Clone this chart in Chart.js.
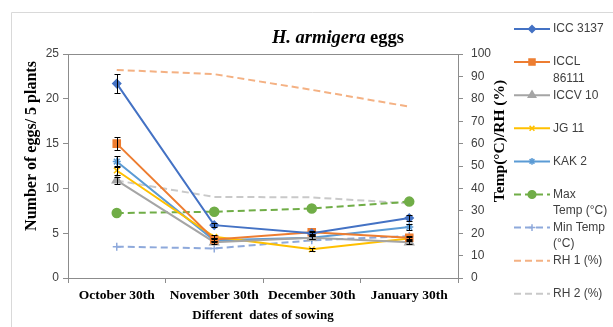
<!DOCTYPE html>
<html>
<head>
<meta charset="utf-8">
<script src="https://cdn.jsdelivr.net/npm/chart.js@4/dist/chart.umd.min.js"></script>
<style>
  html, body { margin: 0; padding: 0; background: #fff; }
  #wrap { width: 613px; height: 327px; position: relative; }
</style>
</head>
<body>
<div id="wrap"><canvas id="c" width="613" height="327"></canvas></div>
<script>
// Sowing dates (categories)
const dates = ['October 30th', 'November 30th', 'December 30th', 'January 30th'];

// Egg counts per 5 plants, with standard errors
const icc3137 = [21.7, 5.9, 5.0, 6.7];
const icc3137Err = [1.05, 0.2, 0.15, 0.3];
const iccl86111 = [15.0, 4.3, 5.1, 4.5];
const iccl86111Err = [0.75, 0.15, 0.15, 0.15];
const iccv10 = [10.9, 4.0, 4.5, 4.0];
const iccv10Err = [0.4, 0.15, 0.15, 0.15];
const jg11 = [12.0, 4.6, 3.2, 4.4];
const jg11Err = [0.5, 0.15, 0.15, 0.15];
const kak2 = [13.0, 4.2, 4.5, 5.7];
const kak2Err = [0.6, 0.15, 0.15, 0.35];

// Weather (right axis)
const maxTemp = [29.0, 29.6, 31.0, 34.1];
const minTemp = [14.0, 13.2, 16.8, 18.7];
const rh1 = [92.9, 91.0, 84.0, 76.5];
const rh2 = [43.5, 36.2, 36.0, 33.3];

// Legend text, already broken into lines
const legendLines = [
  ['ICC 3137'], ['ICCL', '86111'], ['ICCV 10'], ['JG 11'], ['KAK 2'],
  ['Max', 'Temp (°C)'], ['Min Temp', '(°C)'], ['RH 1 (%)'], ['RH 2 (%)']
];

const eggTicks = { min: 0, max: 25, step: 5 };
const weatherTicks = { min: 0, max: 100, step: 10 };

const AXIS = '#8C8C8C';
const TEXT = '#404040';
const SANS = '"Liberation Sans", Arial, sans-serif';
const SERIF = '"Liberation Serif", "Times New Roman", serif';

function eggSet(label, data, err, color, style, radius) {
  return {
    label, data, err, yAxisID: 'y',
    borderColor: color, backgroundColor: color,
    borderWidth: 2, pointStyle: style, pointRadius: radius,
    pointBorderColor: color, pointBackgroundColor: color, pointBorderWidth: 1.5,
    tension: 0
  };
}
function weatherSet(label, data, color, style, radius) {
  return {
    label, data, yAxisID: 'y1',
    borderColor: color, backgroundColor: color,
    borderWidth: 2, borderDash: [7, 4],
    pointStyle: style, pointRadius: radius,
    pointBorderColor: color, pointBackgroundColor: color, pointBorderWidth: 1.5,
    tension: 0
  };
}

const datasets = [
  eggSet(legendLines[0].join(' '), icc3137, icc3137Err, '#4472C4', 'rectRot', 4),
  eggSet(legendLines[1].join(' '), iccl86111, iccl86111Err, '#ED7D31', 'rect', 5),
  eggSet(legendLines[2].join(' '), iccv10, iccv10Err, '#A5A5A5', 'triangle', 5),
  eggSet(legendLines[3].join(' '), jg11, jg11Err, '#FFC000', 'crossRot', 4),
  eggSet(legendLines[4].join(' '), kak2, kak2Err, '#5B9BD5', 'star', 4),
  weatherSet(legendLines[5].join(' '), maxTemp, '#70AD47', 'circle', 4.5),
  weatherSet(legendLines[6].join(' '), minTemp, '#8EA9DB', 'cross', 4),
  weatherSet(legendLines[7].join(' '), rh1, '#F4B183', 'circle', 0),
  weatherSet(legendLines[8].join(' '), rh2, '#C9C9C9', 'circle', 0)
];

// Outer frame, plot border, titles
const decorations = {
  id: 'decorations',
  beforeDraw(chart) {
    const ctx = chart.ctx;
    ctx.save();
    ctx.strokeStyle = '#D9D9D9';
    ctx.lineWidth = 1;
    ctx.beginPath();
    ctx.moveTo(11.5, 327);
    ctx.lineTo(11.5, 12.5);
    ctx.lineTo(613, 12.5);
    ctx.stroke();
    ctx.restore();
  },
  afterDraw(chart) {
    const ctx = chart.ctx;
    const a = chart.chartArea;
    ctx.save();
    ctx.strokeStyle = AXIS;
    ctx.lineWidth = 1;
    ctx.beginPath();
    ctx.moveTo(a.left, a.top + 0.5);
    ctx.lineTo(a.right, a.top + 0.5);
    ctx.stroke();

    // Main title: italic species name + plain word
    ctx.fillStyle = '#000';
    ctx.textBaseline = 'alphabetic';
    ctx.textAlign = 'left';
    const f1 = 'italic bold 18.5px ' + SERIF;
    const f2 = 'bold 18.5px ' + SERIF;
    const t1 = 'H. armigera', t2 = ' eggs';
    ctx.font = f1; const w1 = ctx.measureText(t1).width;
    ctx.font = f2; const w2 = ctx.measureText(t2).width;
    const x0 = 338 - (w1 + w2) / 2;
    ctx.font = f1; ctx.fillText(t1, x0, 43);
    ctx.font = f2; ctx.fillText(t2, x0 + w1, 43);

    // Axis titles
    ctx.textAlign = 'center';
    ctx.textBaseline = 'middle';
    ctx.font = 'bold 16px ' + SERIF;
    ctx.save();
    ctx.translate(32, 146);
    ctx.rotate(-Math.PI / 2);
    ctx.fillText('Number of eggs/ 5 plants', 0, 0);
    ctx.restore();
    ctx.font = 'bold 15.5px ' + SERIF;
    ctx.save();
    ctx.translate(500, 141);
    ctx.rotate(-Math.PI / 2);
    ctx.fillText('Temp(°C)/RH (%)', 0, 0);
    ctx.restore();
    ctx.font = 'bold 13px ' + SERIF;
    ctx.fillText('Different  dates of sowing', (a.left + a.right) / 2, 316);
    ctx.restore();
  }
};

// Error bars on the egg series
const errorBars = {
  id: 'errorBars',
  afterDatasetsDraw(chart) {
    const ctx = chart.ctx;
    const xs = chart.scales.x;
    ctx.save();
    ctx.strokeStyle = '#000';
    ctx.lineWidth = 1;
    chart.data.datasets.forEach((ds) => {
      if (!ds.err) return;
      const ys = chart.scales[ds.yAxisID];
      ds.data.forEach((v, i) => {
        const e = ds.err[i];
        const x = Math.round(xs.getPixelForValue(i)) + 0.5;
        const yT = Math.round(ys.getPixelForValue(v + e)) + 0.5;
        const yB = Math.round(ys.getPixelForValue(v - e)) + 0.5;
        ctx.beginPath();
        ctx.moveTo(x, yT); ctx.lineTo(x, yB);
        ctx.moveTo(x - 3, yT); ctx.lineTo(x + 3, yT);
        ctx.moveTo(x - 3, yB); ctx.lineTo(x + 3, yB);
        ctx.stroke();
      });
    });
    ctx.restore();
  }
};

// Legend on the right side
const sideLegend = {
  id: 'sideLegend',
  afterDraw(chart) {
    const ctx = chart.ctx;
    ctx.save();
    ctx.font = '12px ' + SANS;
    ctx.fillStyle = TEXT;
    ctx.textAlign = 'left';
    ctx.textBaseline = 'middle';
    chart.data.datasets.forEach((ds, i) => {
      const y = 29 + i * 33.1;
      ctx.save();
      ctx.strokeStyle = ds.borderColor;
      ctx.lineWidth = 2;
      ctx.setLineDash(ds.borderDash || []);
      ctx.beginPath();
      ctx.moveTo(514, y); ctx.lineTo(550, y);
      ctx.stroke();
      ctx.setLineDash([]);
      if (ds.pointRadius > 0) {
        ctx.fillStyle = ds.pointBackgroundColor;
        ctx.strokeStyle = ds.pointBorderColor;
        ctx.lineWidth = 1.5;
        Chart.helpers.drawPoint(ctx, { pointStyle: ds.pointStyle, radius: ds.pointRadius * 0.85, borderWidth: 1.5, rotation: 0 }, 532, y);
      }
      ctx.restore();
      legendLines[i].forEach((line, k) => {
        ctx.fillText(line, 553, y + k * 16.5);
      });
    });
    ctx.restore();
  }
};

new Chart(document.getElementById('c'), {
  type: 'line',
  data: { labels: dates, datasets },
  options: {
    responsive: false,
    animation: false,
    layout: { padding: { top: 54, left: 0, right: 0, bottom: 0 } },
    plugins: { legend: { display: false }, title: { display: false }, tooltip: { enabled: false } },
    scales: {
      x: {
        type: 'category',
        offset: true,
        grid: { display: true, offset: true, drawOnChartArea: false, drawTicks: true, tickLength: 5, color: AXIS },
        border: { display: true, color: AXIS, width: 1 },
        ticks: { color: '#000', font: { family: SERIF, size: 13.5, weight: 'bold' }, padding: 4, maxRotation: 0, autoSkip: false },
        afterFit(s) { s.height = 49; }
      },
      y: {
        position: 'left',
        min: eggTicks.min, max: eggTicks.max,
        ticks: { stepSize: eggTicks.step, color: TEXT, font: { family: SANS, size: 12 }, padding: 4 },
        grid: { display: true, drawOnChartArea: false, drawTicks: true, tickLength: 5, color: AXIS },
        border: { display: true, color: AXIS, width: 1 },
        afterFit(s) { s.width = 68; }
      },
      y1: {
        position: 'right',
        min: weatherTicks.min, max: weatherTicks.max,
        ticks: { stepSize: weatherTicks.step, color: TEXT, font: { family: SANS, size: 12 }, padding: 8 },
        grid: { display: true, drawOnChartArea: false, drawTicks: true, tickLength: 5, color: AXIS },
        border: { display: true, color: AXIS, width: 1 },
        afterFit(s) { s.width = 155; }
      }
    }
  },
  plugins: [decorations, errorBars, sideLegend]
});
</script>
</body>
</html>
